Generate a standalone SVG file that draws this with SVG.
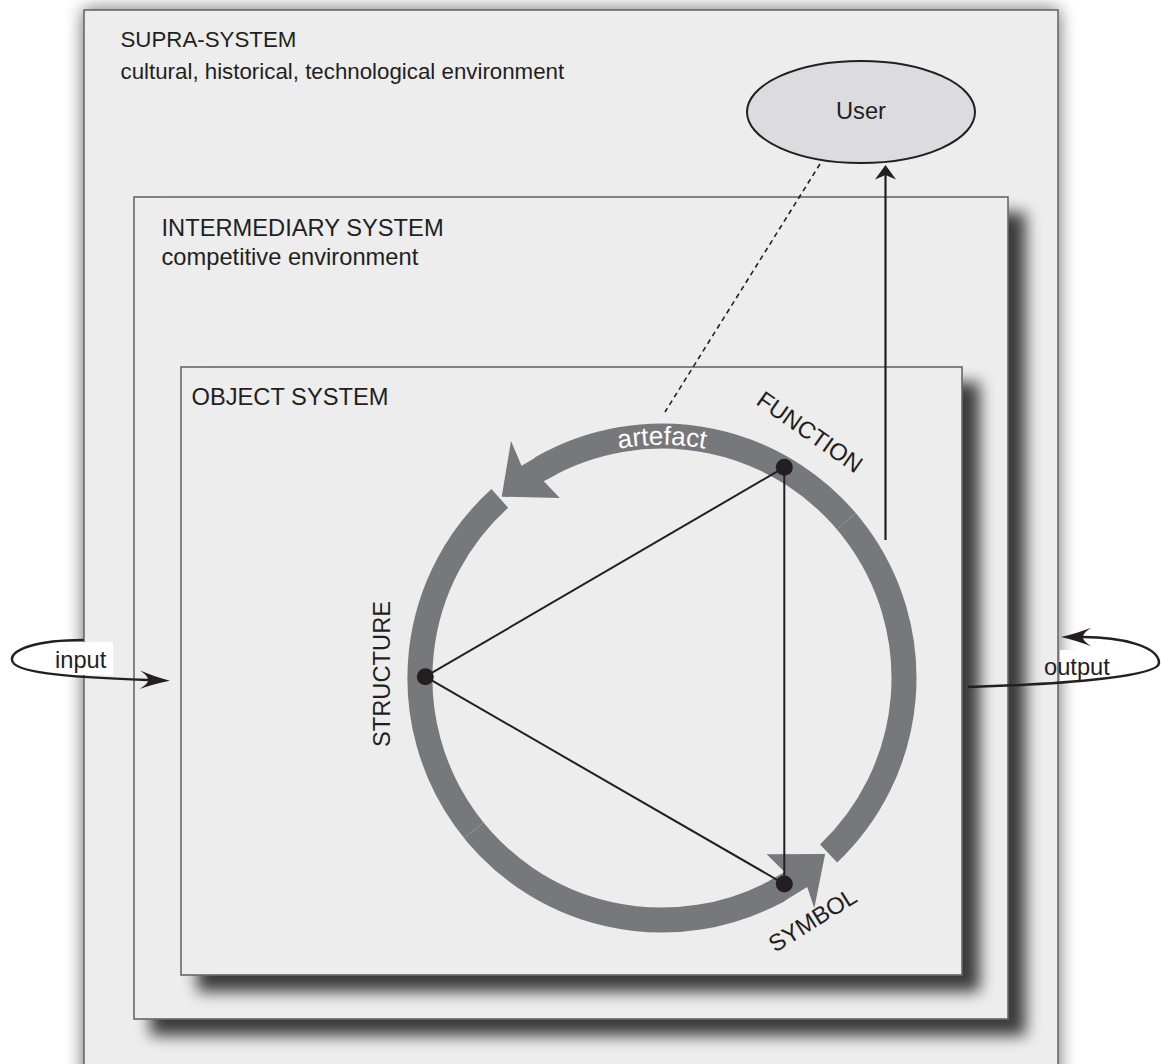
<svg xmlns="http://www.w3.org/2000/svg" width="1161" height="1064" viewBox="0 0 1161 1064">
<defs>
<style>
text{font-family:"Liberation Sans",Arial,Helvetica,sans-serif;fill:#231f20;}
.box{fill:#ededed;stroke:#5f5f5f;stroke-width:1.5;}
.lbl{font-size:23.7px;}
.sup{font-size:22.3px;}
.ring{fill:none;stroke:#77787b;stroke-width:25;stroke-linecap:butt;}
.head{fill:#77787b;}
.seam{stroke:#9a9b9e;stroke-width:0.8;}
.edge{stroke:#231f20;stroke-width:2;fill:none;}
.dot{fill:#231f20;}
.io{fill:none;stroke:#231f20;stroke-width:2.5;}
.tag{fill:#ffffff;}
</style>
<filter id="glow" x="-0.1" y="-0.1" width="1.2" height="1.2">
<feGaussianBlur in="SourceAlpha" stdDeviation="9"/>
<feComponentTransfer><feFuncA type="linear" slope="0.6"/></feComponentTransfer>
<feMerge><feMergeNode/><feMergeNode in="SourceGraphic"/></feMerge>
</filter>
<filter id="drop" x="-0.05" y="-0.05" width="1.15" height="1.15">
<feGaussianBlur in="SourceAlpha" stdDeviation="7.5"/>
<feOffset dx="17" dy="16"/>
<feComponentTransfer><feFuncA type="linear" slope="0.75"/></feComponentTransfer>
<feMerge><feMergeNode/><feMergeNode in="SourceGraphic"/></feMerge>
</filter>
<marker id="barb" markerUnits="userSpaceOnUse" markerWidth="32" markerHeight="22" refX="8" refY="10" orient="auto" overflow="visible">
<path d="M30,10 Q13,6 0,0.7 Q9,7 8,10 Q9,13 0,19.3 Q13,14 30,10 Z" fill="#231f20"/>
</marker>
<marker id="small" markerUnits="userSpaceOnUse" markerWidth="16" markerHeight="22" refX="4.5" refY="10.5" orient="auto" overflow="visible">
<path d="M14.5,10.5 L0,0 L4.5,10.5 L0,21 Z" fill="#231f20"/>
</marker>
<path id="artefactArc" d="M545.5,476 A233,233 0 0 1 778.5,476"/>
</defs>

<rect x="0" y="0" width="1161" height="1064" fill="#ffffff"/>

<g id="supra-system">
<rect class="box" x="84" y="10" width="974" height="1075" filter="url(#glow)"/>
<text class="sup" x="120.5" y="47.3">SUPRA-SYSTEM</text>
<text class="sup" x="120.5" y="79.3">cultural, historical, technological environment</text>
</g>

<g id="intermediary-system">
<rect class="box" x="134" y="197" width="874" height="822" filter="url(#drop)"/>
<text class="lbl" x="161.5" y="236">INTERMEDIARY SYSTEM</text>
<text class="lbl" x="161.5" y="264.5">competitive environment</text>
</g>

<g id="object-system">
<rect class="box" x="181" y="367" width="781" height="608" filter="url(#drop)"/>
<text class="lbl" x="191.5" y="405">OBJECT SYSTEM</text>
</g>

<g id="artefact-cycle">
<path class="ring" d="M828.6,853.5 A242,242 0 0 0 541.0,468.4"/>
<path class="head" d="M501.7,496.7 L511.0,441.0 L521.5,465.8 L546.5,451.2 L557.8,473.5 L543.8,481.3 L559.8,498.0 Z"/>
<path class="ring" d="M499.8,498.4 A242,242 0 0 0 779.3,889.7"/>
<path class="head" d="M825.1,854.1 L814.3,908.2 L807.2,887.0 L781.5,902.7 L769.7,880.6 L784.6,872.0 L766.7,854.3 Z"/>
<line class="seam" x1="836.8" y1="529.3" x2="855.8" y2="513.1"/>
<line class="seam" x1="483.7" y1="822.4" x2="464.2" y2="838.2"/>
<text font-size="26" style="fill:#ffffff"><textPath href="#artefactArc" startOffset="50%" text-anchor="middle">artefact</textPath></text>
</g>

<g id="user">
<ellipse cx="861" cy="112" rx="114" ry="51" fill="#dcdcde" stroke="#231f20" stroke-width="2"/>
<text class="lbl" x="861" y="118.5" text-anchor="middle">User</text>
</g>

<g id="input-label">
<rect class="tag" x="45" y="642" width="68" height="33"/>
<text class="lbl" x="55" y="668">input</text>
</g>

<g id="output-label">
<rect class="tag" x="1060" y="650" width="101" height="33"/>
<text class="lbl" x="1044" y="675">output</text>
</g>

<g id="connectors">
<line class="edge" x1="425.3" y1="676.7" x2="784.3" y2="467.3"/>
<line class="edge" x1="784.3" y1="467.3" x2="784.3" y2="884"/>
<line class="edge" x1="425.3" y1="676.7" x2="784.3" y2="884"/>
<line x1="820" y1="164" x2="665" y2="412" stroke="#231f20" stroke-width="1.6" stroke-dasharray="5 4"/>
<line x1="885.5" y1="540" x2="885.5" y2="175" stroke="#231f20" stroke-width="2.2" marker-end="url(#small)"/>
<path class="io" d="M83.5,640 C35,640 11,650 12,660 C13,672 60,677 148,680" marker-end="url(#barb)"/>
<path class="io" d="M968,687 C1070,684 1159,676 1159,663 C1159,646 1120,637 1083,637" marker-end="url(#barb)"/>
</g>

<g id="structure">
<circle class="dot" cx="425.3" cy="676.7" r="8.5"/>
<text class="lbl" transform="translate(390,674) rotate(-90)" text-anchor="middle" font-size="23.5">STRUCTURE</text>
</g>

<g id="function">
<circle class="dot" cx="784.3" cy="467.3" r="8.5"/>
<text class="lbl" transform="translate(755,403.5) rotate(35)" font-size="23.3">FUNCTION</text>
</g>

<g id="symbol">
<circle class="dot" cx="784.3" cy="884" r="8.5"/>
<text class="lbl" transform="translate(775,953) rotate(-32)">SYMBOL</text>
</g>
</svg>
